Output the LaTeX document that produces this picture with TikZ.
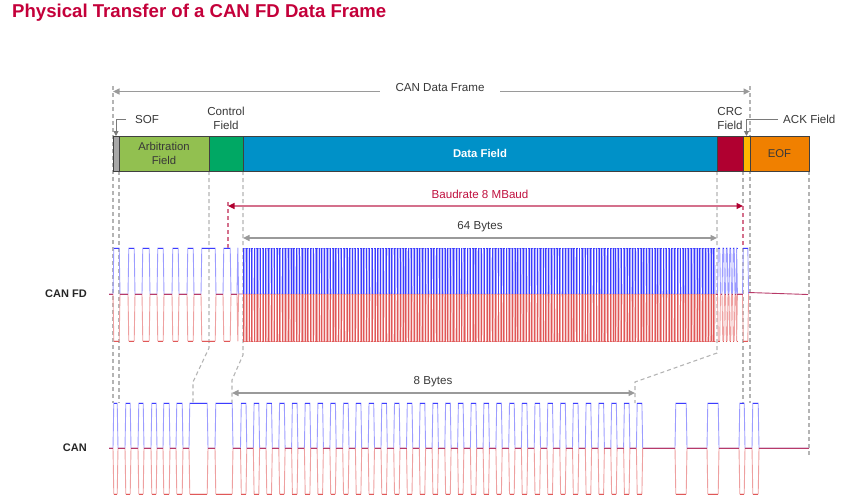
\documentclass[tikz,border=0pt]{standalone}
\usepackage{fontspec}
\setmainfont{Liberation Sans}
\usetikzlibrary{arrows.meta}
\definecolor{titlecol}{HTML}{C4003A}
\definecolor{txt}{HTML}{383838}
\definecolor{dashgray}{HTML}{B4B4B4}
\definecolor{arrgray}{HTML}{9A9A9A}
\definecolor{callgray}{HTML}{7A7A7A}
\definecolor{sofcol}{HTML}{A8A8A8}
\definecolor{arbcol}{HTML}{92C050}
\definecolor{ctlcol}{HTML}{00A864}
\definecolor{datacol}{HTML}{0091C8}
\definecolor{crccol}{HTML}{B00030}
\definecolor{ackcol}{HTML}{FFB800}
\definecolor{eofcol}{HTML}{F08000}
\definecolor{baudline}{HTML}{D4708C}
\definecolor{baudtip}{HTML}{B00030}
\definecolor{baudtxt}{HTML}{C0103F}
\definecolor{hiblue}{HTML}{3C3CFF}
\definecolor{loblue}{HTML}{9C9CFF}
\definecolor{hired}{HTML}{E05858}
\definecolor{lored}{HTML}{EEA0A0}
\definecolor{midcol}{HTML}{B83A68}
\definecolor{denseblue}{HTML}{A0A0FF}
\definecolor{densered}{HTML}{EFA4A4}
\newcommand\drawsig[6]{%
  \draw[sigblueL] (#2,#5) foreach \a/\b in {#1} { -- (\a,#5) -- (\a+0.8,#4) -- (\b-0.8,#4) -- (\b,#5) } -- (#3,#5);
  \draw[sigredL] (#2,#5) foreach \a/\b in {#1} { -- (\a,#5) -- (\a+0.8,#6) -- (\b-0.8,#6) -- (\b,#5) } -- (#3,#5);
  \foreach \a/\b [remember=\b as \pb (initially #2)] in {#1} {
    \draw[sigblueD] (\a+0.8,#4) -- (\b-0.8,#4);
    \draw[sigredD] (\a+0.8,#6) -- (\b-0.8,#6);
    \draw[sigmid] (\pb,#5) -- (\a,#5);
  }%
}
\begin{document}
\begin{tikzpicture}[x=1pt,y=-1pt,
  fieldbox/.style={draw=black!75, line width=0.8pt, minimum height=35pt, inner sep=0pt, outer sep=0pt, anchor=north west, text=txt, font=\fontsize{11.3}{14}\selectfont, align=center},
  guide/.style={draw=dashgray, line width=1.1pt, dash pattern=on 4pt off 3pt},
  redguide/.style={draw=baudline, line width=1.1pt, dash pattern=on 4pt off 3pt},
  dimarrow/.style={draw=arrgray, line width=1.3pt, arrows={Triangle[length=6.5pt,width=6pt]-Triangle[length=6.5pt,width=6pt]}},
  baudarrow/.style={draw=baudline, line width=1.3pt, arrows={Triangle[length=6.5pt,width=6pt,color=baudtip]-Triangle[length=6.5pt,width=6pt,color=baudtip]}},
  callout/.style={draw=callgray, line width=1pt, arrows={-Triangle[length=5pt,width=5pt]}},
  lbl/.style={text=txt, font=\fontsize{11.6}{14.5}\selectfont, inner sep=1pt, align=center},
  siglbl/.style={text=black!85, font=\bfseries\fontsize{11}{13}\selectfont, inner sep=0pt, anchor=east},
  sigblueL/.style={draw=loblue, line width=0.9pt, line join=round},
  sigredL/.style={draw=lored, line width=0.9pt, line join=round},
  sigblueD/.style={draw=hiblue, line width=0.9pt},
  sigredD/.style={draw=hired, line width=0.9pt},
  sigmid/.style={draw=midcol, line width=0.9pt},
]
\useasboundingbox (0,0) rectangle (841,498);

% title
\node[anchor=base west, text=titlecol, font=\bfseries\fontsize{18.6}{20}\selectfont, inner sep=0pt] (title) at (12,17.5) {Physical Transfer of a CAN FD Data Frame};

% guide coordinates
\coordinate (g1t) at (113,86);  \coordinate (g1b) at (113,403);
\coordinate (g2t) at (119,171); \coordinate (g2b) at (119,403);
\coordinate (g3t) at (209,171); \coordinate (g3m) at (209,348); \coordinate (g3n) at (193,382); \coordinate (g3b) at (193,403);
\coordinate (g4t) at (243,171); \coordinate (g4m) at (243,355); \coordinate (g4n) at (232,380); \coordinate (g4b) at (232,403);
\coordinate (g5t) at (717,171); \coordinate (g5m) at (717,353); \coordinate (g5n) at (635,382); \coordinate (g5b) at (635,403);
\coordinate (g6t) at (743,171); \coordinate (g6b) at (743,403);
\coordinate (g7t) at (750,86);  \coordinate (g7b) at (750,403);
\coordinate (g8t) at (809,171); \coordinate (g8b) at (809,455);
\coordinate (r1t) at (228,202); \coordinate (r1b) at (228,248);
\coordinate (r2t) at (743,206); \coordinate (r2b) at (743,248);

\draw[guide] (g1t) -- (g1b);
\draw[guide] (g2t) -- (g2b);
\draw[guide] (g3t) -- (g3m) -- (g3n) -- (g3b);
\draw[guide] (g4t) -- (g4m) -- (g4n) -- (g4b);
\draw[guide] (g5t) -- (g5m) -- (g5n) -- (g5b);
\draw[guide] (g6t) -- (g6b);
\draw[guide] (g7t) -- (g7b);
\draw[guide] (g8t) -- (g8b);
\draw[redguide] (r1t) -- (r1b);
\draw[redguide] (r2t) -- (r2b);

% field bar
\node[fieldbox, fill=sofcol, minimum width=6pt] (sof) at (113,136) {};
\node[fieldbox, fill=arbcol, minimum width=90pt] (arb) at (119,136) {Arbitration\\Field};
\node[fieldbox, fill=ctlcol, minimum width=34pt] (ctl) at (209,136) {};
\node[fieldbox, fill=datacol, minimum width=474pt, text=white, font=\bfseries\fontsize{11.3}{14}\selectfont] (data) at (243,136) {Data Field};
\node[fieldbox, fill=crccol, minimum width=26pt] (crc) at (717,136) {};
\node[fieldbox, fill=ackcol, minimum width=7pt] (ack) at (743,136) {};
\node[fieldbox, fill=eofcol, minimum width=59pt] (eof) at (750,136) {EOF};

% labels above bar
\node[lbl] (ctll) at (226,118.5) {Control\\Field};
\node[lbl] (crcl) at (730,118.5) {CRC\\Field};
\node[lbl, anchor=west] (sofl) at (134,119.5) {SOF};
\node[lbl, anchor=west] (ackl) at (782,119.5) {ACK Field};
\draw[callout] ([xshift=-8pt]sofl.west) -| (sof.north);
\draw[callout] ([xshift=-4pt]ackl.west) -| (ack.north);

% frame arrow
\coordinate (fa) at (113,91.5); \coordinate (fb) at (750,91.5);
\draw[dimarrow] (fa) -- (fb);
\node[lbl, fill=white, inner xsep=16pt] (framel) at (440,88) {CAN Data Frame};

% baudrate arrow
\coordinate (ba) at (228,206); \coordinate (bb) at (743,206);
\draw[baudarrow] (ba) -- (bb);
\node[lbl, text=baudtxt] (baudl) at (480,194) {Baudrate 8 MBaud};

% 64 bytes arrow
\coordinate (sa) at (243,238); \coordinate (sb) at (717,238);
\draw[dimarrow] (sa) -- (sb);
\node[lbl] (b64) at (480,226.5) {64 Bytes};

% signal labels
\node[siglbl] (canfdl) at (87,294) {CAN FD};
\node[siglbl] (canl) at (87,448) {CAN};

% CAN FD signal
\drawsig{113/120,128/135,142/150,157/164,172/179,187/194,201/216,223/231,237/238.6}{109}{243}{248}{294}{341}
\fill[denseblue] (243,248) rectangle (716,294);
\fill[densered] (243,294) rectangle (716,341);
\draw[sigblueD] (243,248) -- (716,248);
\draw[sigredD] (243,341) -- (716,341);
\pgfmathsetseed{11}
\foreach \i [evaluate=\i as \xa using {243+2.8*\i}, evaluate=\i as \w using {1.4+1.0*rnd}] in {0,...,168} {
  \draw[white, line width=0.75pt] (\xa+\w,247.5) -- (\xa+\w+0.2,293.5);
  \draw[white, line width=0.75pt] (\xa+\w,341.5) -- (\xa+\w+0.2,294.5);
  \draw[draw=hiblue, line width=0.4pt] (\xa+0.2,294) -- (\xa+0.2,248);
  \draw[draw=hired, line width=0.4pt] (\xa+0.2,294) -- (\xa+0.2,341);
}
\drawsig{717.5/720.5,722/724.5,725.5/728,729/731.5,732.5/735,736/737.4,742.5/748.6}{716}{748.6}{248}{294}{341}
\coordinate (fdt1) at (748.6,292.5); \coordinate (fdt2) at (808,294.5);
\draw[sigmid] (fdt1) -- (fdt2);

% CAN signal
\drawsig{113/118,125/131,138/144,151/157,163/170,176/183,189/208,215/233,240.5/246.8,253.3/259.6,266.0/272.3,278.8/285.1,291.6/297.9,304.4/310.7,317.1/323.4,329.9/336.2,342.7/349.0,355.4/361.7,368.2/374.5,381.0/387.3,393.7/400.0,406.5/412.8,419.3/425.6,432.1/438.4,444.8/451.1,457.6/463.9,470.4/476.7,483.1/489.4,495.9/502.2,508.7/515.0,521.4/527.7,534.2/540.5,547.0/553.3,559.8/566.1,572.5/578.8,585.3/591.6,598.1/604.4,610.8/617.1,623.6/629.9,636.4/642.7,675/687,707/719,739/745,752/759}{109}{809}{403}{448}{494}
\coordinate (ct1) at (759,448); \coordinate (ct2) at (809,448);
\draw[sigmid] (ct1) -- (ct2);

% 8 bytes arrow
\coordinate (ea) at (232,393); \coordinate (eb) at (635,393);
\draw[dimarrow] (ea) -- (eb);
\node[lbl] (b8) at (433,382) {8 Bytes};
\end{tikzpicture}
\end{document}
